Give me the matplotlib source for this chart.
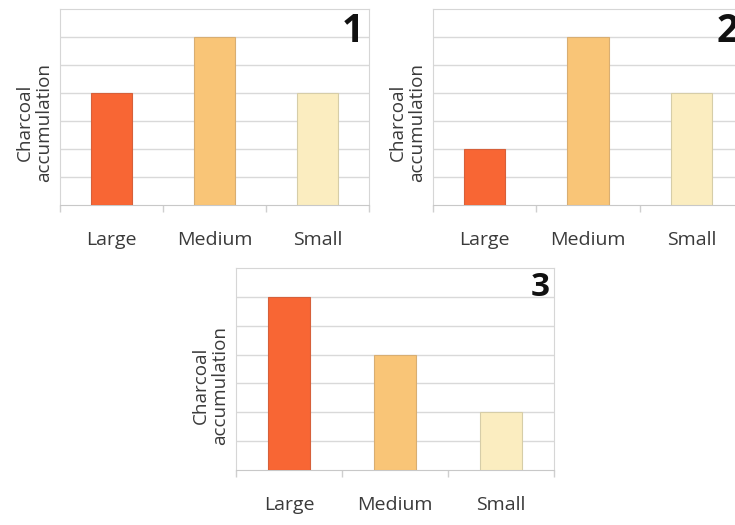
import matplotlib
matplotlib.use("Agg")
import matplotlib.pyplot as plt
import numpy as np

plt.rcParams['font.family'] = ['Open Sans', 'DejaVu Sans']

categories = ["Large", "Medium", "Small"]
panel_labels = ["1", "2", "3"]
panel_values = [
    [4, 6, 4],
    [2, 6, 4],
    [6, 4, 2],
]
bar_colors = ["#F86634", "#F9C577", "#FBEDC0"]
edge_colors = ["#D6603A", "#D8AE72", "#D6CDA8"]

# axes rectangles in figure fractions (left, bottom, width, height)
positions = [
    [0.0816, 0.6095, 0.4204, 0.3733],
    [0.5891, 0.6095, 0.4218, 0.3733],
    [0.3211, 0.1048, 0.4327, 0.3848],
]
number_sizes = [28, 28, 24]

fig = plt.figure(figsize=(7.35, 5.25), dpi=100)

for vals, lab, pos, nsize in zip(panel_values, panel_labels, positions, number_sizes):
    ax = fig.add_axes(pos)
    x = np.arange(len(categories))
    ax.bar(x, vals, width=0.4, color=bar_colors, edgecolor=edge_colors,
           linewidth=0.8, zorder=3)
    ax.set_xlim(-0.5, 2.5)
    ax.set_ylim(0, 7)
    ax.set_yticks(np.arange(1, 7))
    ax.yaxis.grid(True, color="#d9d9d9", linewidth=1.0, zorder=0)
    ax.tick_params(axis='y', length=0, labelleft=False)
    ax.set_xticks(x)
    ax.set_xticklabels(categories, fontsize=14, color="#3a3a3a")
    ax.tick_params(axis='x', which='major', length=0, pad=18.5)
    ax.set_xticks([-0.5, 0.5, 1.5, 2.5], minor=True)
    ax.tick_params(axis='x', which='minor', length=5, color="#cfcfcf", width=1)
    for side in ['top', 'right', 'left']:
        ax.spines[side].set_color("#d6d6d6")
    ax.spines['bottom'].set_color("#c8c8c8")
    ax.text(-0.022, 0.42, "Charcoal\naccumulation", rotation=90,
            ha='right', va='center', multialignment='center',
            fontsize=13.6, color="#3a3a3a", transform=ax.transAxes,
            linespacing=1.1)
    ax.text(0.985, 0.985, lab, ha='right', va='top', fontsize=nsize,
            fontweight='bold', color="#111111", transform=ax.transAxes)

fig.savefig("out.png", dpi=100)
